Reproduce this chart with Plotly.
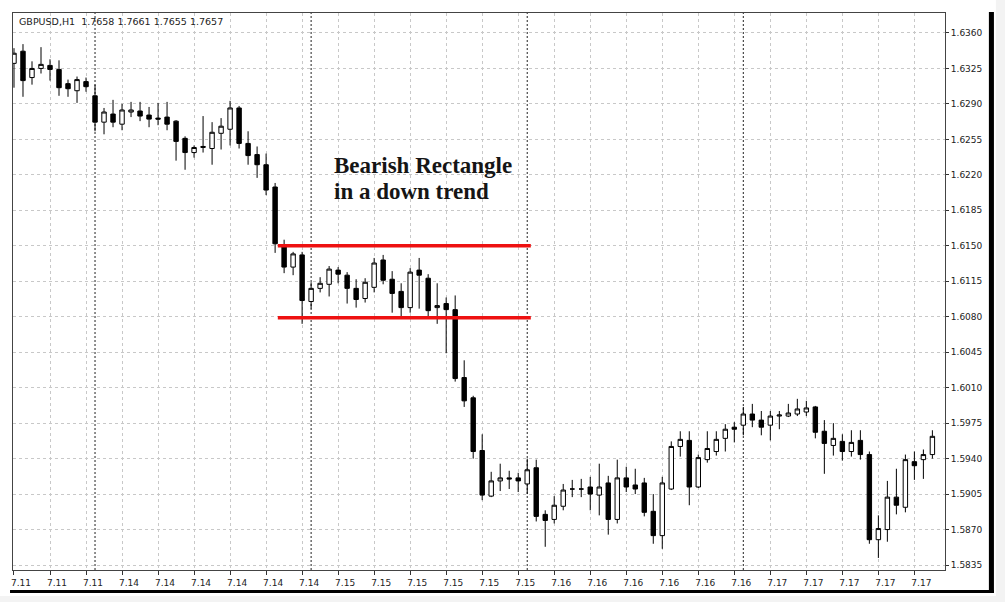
import plotly.graph_objects as go

# ---------------- data ----------------
opens = [1.6330, 1.6342, 1.6316, 1.6325, 1.6328, 1.6324, 1.6310, 1.6303, 1.6312, 1.6298,
         1.6272, 1.6280, 1.6270, 1.6282, 1.6283, 1.6279, 1.6276, 1.6277, 1.6273, 1.6256,
         1.6242, 1.6247, 1.6246, 1.6261, 1.6265, 1.6286, 1.6251, 1.6240, 1.6230, 1.6208,
         1.6149, 1.6129, 1.6141, 1.6095, 1.6108, 1.6112, 1.6126, 1.6121, 1.6108, 1.6098,
         1.6109, 1.6136, 1.6117, 1.6105, 1.6089, 1.6126, 1.6118, 1.6089, 1.6093, 1.6087,
         1.6020, 1.6000, 1.5948, 1.5903, 1.5918, 1.5921, 1.5921, 1.5915, 1.5931, 1.5885,
         1.5880, 1.5893, 1.5910, 1.5910, 1.5912, 1.5904, 1.5916, 1.5880, 1.5921, 1.5914,
         1.5916, 1.5888, 1.5864, 1.5910, 1.5952, 1.5958, 1.5912, 1.5939, 1.5947, 1.5960,
         1.5971, 1.5973, 1.5984, 1.5978, 1.5973, 1.5982, 1.5982, 1.5984, 1.5986, 1.5991,
         1.5967, 1.5953, 1.5957, 1.5947, 1.5958, 1.5944, 1.5860, 1.5870, 1.5902, 1.5892,
         1.5937, 1.5939, 1.5944]
highs = [1.6345, 1.6349, 1.6332, 1.6346, 1.6334, 1.6333, 1.6314, 1.6317, 1.6316, 1.6309,
         1.6286, 1.6294, 1.6290, 1.6292, 1.6292, 1.6287, 1.6291, 1.6292, 1.6274, 1.6258,
         1.6249, 1.6278, 1.6272, 1.6276, 1.6293, 1.6288, 1.6263, 1.6248, 1.6241, 1.6212,
         1.6156, 1.6144, 1.6144, 1.6114, 1.6119, 1.6130, 1.6129, 1.6124, 1.6117, 1.6118,
         1.6138, 1.6141, 1.6125, 1.6113, 1.6128, 1.6138, 1.6122, 1.6113, 1.6099, 1.6101,
         1.6037, 1.6002, 1.5964, 1.5927, 1.5935, 1.5928, 1.5926, 1.5940, 1.5939, 1.5889,
         1.5903, 1.5915, 1.5919, 1.5920, 1.5922, 1.5935, 1.5923, 1.5939, 1.5932, 1.5930,
         1.5921, 1.5905, 1.5922, 1.5957, 1.5967, 1.5967, 1.5944, 1.5967, 1.5967, 1.5974,
         1.5976, 1.5991, 1.5994, 1.5987, 1.5987, 1.5987, 1.5994, 1.5999, 1.5997, 1.5992,
         1.5978, 1.5975, 1.5964, 1.5968, 1.5968, 1.5947, 1.5884, 1.5918, 1.5930, 1.5944,
         1.5947, 1.5949, 1.5968]
lows = [1.6306, 1.6297, 1.6309, 1.6320, 1.6313, 1.6298, 1.6297, 1.6291, 1.6302, 1.6263,
        1.6260, 1.6267, 1.6264, 1.6277, 1.6273, 1.6267, 1.6269, 1.6264, 1.6234, 1.6225,
        1.6237, 1.6242, 1.6230, 1.6245, 1.6249, 1.6246, 1.6230, 1.6217, 1.6200, 1.6143,
        1.6123, 1.6121, 1.6073, 1.6088, 1.6104, 1.6100, 1.6113, 1.6093, 1.6089, 1.6094,
        1.6104, 1.6112, 1.6084, 1.6080, 1.6084, 1.6088, 1.6080, 1.6073, 1.6044, 1.6016,
        1.5991, 1.5940, 1.5899, 1.5902, 1.5908, 1.5910, 1.5907, 1.5905, 1.5878, 1.5853,
        1.5876, 1.5889, 1.5902, 1.5902, 1.5889, 1.5884, 1.5865, 1.5876, 1.5907, 1.5905,
        1.5883, 1.5856, 1.5851, 1.5909, 1.5942, 1.5894, 1.5911, 1.5936, 1.5943, 1.5947,
        1.5956, 1.5963, 1.5971, 1.5963, 1.5958, 1.5969, 1.5981, 1.5982, 1.5982, 1.5960,
        1.5925, 1.5943, 1.5938, 1.5942, 1.5939, 1.5856, 1.5842, 1.5858, 1.5885, 1.5887,
        1.5919, 1.5920, 1.5940]
closes = [1.6340, 1.6313, 1.6325, 1.6329, 1.6324, 1.6306, 1.6305, 1.6314, 1.6307, 1.6272,
          1.6282, 1.6272, 1.6284, 1.6284, 1.6278, 1.6275, 1.6275, 1.6270, 1.6253, 1.6242,
          1.6247, 1.6248, 1.6262, 1.6268, 1.6286, 1.6251, 1.6239, 1.6230, 1.6205, 1.6152,
          1.6129, 1.6142, 1.6096, 1.6108, 1.6113, 1.6127, 1.6122, 1.6108, 1.6097, 1.6114,
          1.6133, 1.6116, 1.6103, 1.6089, 1.6124, 1.6121, 1.6086, 1.6091, 1.6087, 1.6019,
          1.5997, 1.5947, 1.5904, 1.5918, 1.5921, 1.5920, 1.5918, 1.5929, 1.5883, 1.5879,
          1.5894, 1.5909, 1.5910, 1.5910, 1.5905, 1.5912, 1.5880, 1.5921, 1.5912, 1.5910,
          1.5887, 1.5864, 1.5916, 1.5952, 1.5959, 1.5912, 1.5941, 1.5950, 1.5959, 1.5969,
          1.5969, 1.5984, 1.5978, 1.5971, 1.5982, 1.5983, 1.5985, 1.5989, 1.5990, 1.5966,
          1.5955, 1.5960, 1.5947, 1.5956, 1.5944, 1.5860, 1.5871, 1.5902, 1.5894, 1.5939,
          1.5933, 1.5944, 1.5962]

bar_index = list(range(len(opens)))

tick_bars = list(range(0, 101, 4))
tick_labels = ["7.11", "7.11", "7.11",
               "7.14", "7.14", "7.14", "7.14", "7.14", "7.14",
               "7.15", "7.15", "7.15", "7.15", "7.15", "7.15",
               "7.16", "7.16", "7.16", "7.16", "7.16", "7.16",
               "7.17", "7.17", "7.17", "7.17", "7.17"]

day_separators = [9, 33, 57, 81]

rect_top = 1.6150
rect_bottom = 1.6079
rect_start = 29.3
rect_end = 57.4

header_text = "GBPUSD,H1\u00a0\u00a01.7658 1.7661 1.7655 1.7657"
pattern_lines = ["Bearish Rectangle", "in a down trend"]
pattern_line_y = [1.62297, 1.62031]
pattern_x = 35.3

# ---------------- figure ----------------
fig = go.Figure()

fig.add_trace(go.Candlestick(
    x=bar_index, open=opens, high=highs, low=lows, close=closes,
    increasing=dict(line=dict(color="#000000", width=1), fillcolor="#ffffff"),
    decreasing=dict(line=dict(color="#000000", width=1), fillcolor="#000000"),
    whiskerwidth=0,
    showlegend=False,
    hoverinfo="x+y",
))

shapes = []
# page background strips and black frame (outside the plot area)
shapes.append(dict(type="rect", xref="paper", yref="paper", x0=1.0546, x1=1.2,
                   y0=-0.2, y1=1.2, fillcolor="#f3f3f3", line=dict(width=0), layer="below"))
shapes.append(dict(type="rect", xref="paper", yref="paper", x0=-0.2, x1=1.2,
                   y0=-0.2, y1=-0.0467, fillcolor="#f3f3f3", line=dict(width=0), layer="below"))
shapes.append(dict(type="rect", xref="paper", yref="paper", x0=1.0471, x1=1.0525,
                   y0=-0.0413, y1=1.0018, fillcolor="#000000", line=dict(width=0)))
shapes.append(dict(type="rect", xref="paper", yref="paper", x0=-0.0032, x1=1.0525,
                   y0=-0.0413, y1=-0.0359, fillcolor="#000000", line=dict(width=0)))

# day separators
for d in day_separators:
    shapes.append(dict(type="line", xref="x", yref="paper", x0=d, x1=d, y0=0, y1=1,
                       line=dict(color="#222222", width=1, dash="2px,2px"), layer="below"))

# rectangle boundaries
for lvl in (rect_top, rect_bottom):
    shapes.append(dict(type="line", xref="x", yref="y", x0=rect_start, x1=rect_end,
                       y0=lvl, y1=lvl, line=dict(color="#ee1111", width=3.5)))

annotations = [
    dict(text=header_text, xref="paper", yref="paper", x=0.0043, y=0.9856,
         xanchor="left", yanchor="middle", showarrow=False,
         font=dict(family="DejaVu Sans", size=9.5, color="#222222")),
]
for txt, ly in zip(pattern_lines, pattern_line_y):
    annotations.append(dict(text="<b>" + txt + "</b>", xref="x", yref="y", x=pattern_x, y=ly,
                            xanchor="left", yanchor="middle", align="left", showarrow=False,
                            font=dict(family="Liberation Serif", size=23, color="#151515")))

fig.update_layout(
    width=1005, height=602,
    margin=dict(l=11, r=60, t=13, b=32, pad=0),
    paper_bgcolor="#ffffff",
    plot_bgcolor="#ffffff",
    font=dict(family="DejaVu Sans", size=9, color="#222222"),
    shapes=shapes,
    showlegend=False,
    annotations=annotations,
)

fig.update_xaxes(
    range=[-0.11, 103.4],
    rangeslider=dict(visible=False),
    tickmode="array", tickvals=tick_bars, ticktext=tick_labels,
    ticks="outside", ticklen=4, tickcolor="#333333",
    ticklabelshift=7, ticklabelstandoff=0,
    showgrid=True, gridcolor="#c8c8c8", griddash="3px,3px", gridwidth=1,
    showline=True, linecolor="#444444", linewidth=1, mirror=True,
    zeroline=False,
    tickfont=dict(family="DejaVu Sans", size=9, color="#222222"),
)
fig.update_yaxes(
    range=[1.58301, 1.63797],
    side="right",
    tick0=1.5835, dtick=0.0035, tickformat=".4f",
    ticks="outside", ticklen=3, tickcolor="#333333",
    showgrid=True, gridcolor="#c8c8c8", griddash="3px,3px", gridwidth=1,
    showline=True, linecolor="#444444", linewidth=1, mirror=True,
    zeroline=False,
    tickfont=dict(family="DejaVu Sans", size=9, color="#222222"),
)

fig.write_html("out.html")
